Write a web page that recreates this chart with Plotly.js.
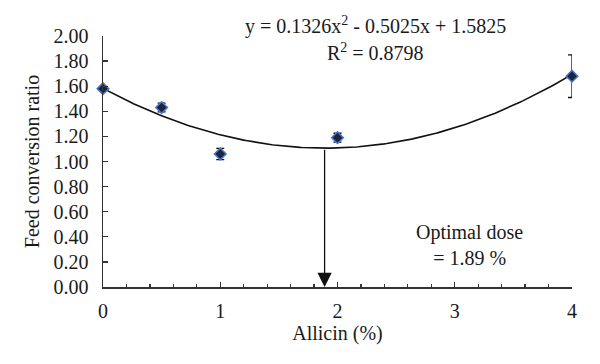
<!DOCTYPE html>
<html><head><meta charset="utf-8">
<script src="https://cdn.plot.ly/plotly-3.0.1.min.js"></script>
<style>body{margin:0;background:#fff}#c{width:600px;height:364px}</style>
</head><body><div id="c"></div>
<script>
const doses = [0, 0.5, 1, 2, 4];
const fcr = [1.58, 1.43, 1.06, 1.19, 1.68];
const fcrErr = [0.01, 0.035, 0.045, 0.035, 0.17];
const fitCoef = [0.1326, -0.5025, 1.5825];
const optimalDose = 1.89;
const xTicks = [0, 1, 2, 3, 4];
const yTicks = [0, 0.2, 0.4, 0.6, 0.8, 1.0, 1.2, 1.4, 1.6, 1.8, 2.0];

const fit = x => fitCoef[0]*x*x + fitCoef[1]*x + fitCoef[2];
const fx = [], fy = [];
for (let i = 0; i <= 200; i++) { const x = 4*i/200; fx.push(x); fy.push(fit(x)); }

const F = 'Liberation Serif, Times New Roman, serif';
const FS = 19;
const TFS = 20;
const traces = [
  {x: fx, y: fy, mode: 'lines', line: {color: '#111', width: 1.6}, hoverinfo: 'skip'},
  {x: doses, y: fcr, mode: 'markers', type: 'scatter', cliponaxis: false,
   error_y: {type: 'data', array: fcrErr, color: '#111', thickness: 1.3, width: 4},
   marker: {symbol: 'diamond', size: 9, color: '#1a2440', line: {color: '#4a78c8', width: 1.5}}}
];
const layout = {
  width: 600, height: 364, showlegend: false,
  paper_bgcolor: '#fff', plot_bgcolor: '#fff',
  margin: {l: 103, r: 28, t: 36, b: 77},
  font: {family: F, size: FS, color: '#1a1a1a'},
  xaxis: {range: [0, 4], tickvals: xTicks, ticktext: xTicks.map(String),
    showgrid: false, zeroline: false, showline: true, linecolor: '#333', linewidth: 1.5,
    ticks: 'inside', ticklen: 5, tickcolor: '#333', tickwidth: 1.3,
    minor: {dtick: 0.2, ticks: 'inside', ticklen: 3, tickcolor: '#333', tickwidth: 1.2},
    tickfont: {family: F, size: TFS}, ticklabelstandoff: 5,
    title: {text: 'Allicin (%)', font: {family: F, size: TFS}, standoff: 5}},
  yaxis: {range: [0, 2], tickvals: yTicks, ticktext: yTicks.map(v => v.toFixed(2)),
    showgrid: false, zeroline: false, showline: true, linecolor: '#333', linewidth: 1.5,
    ticks: 'inside', ticklen: 5, tickcolor: '#333', tickwidth: 1.3,
    tickfont: {family: F, size: TFS}, ticklabelstandoff: 9,
    title: {text: 'Feed conversion ratio', font: {family: F, size: TFS}, standoff: 8}},
  annotations: [
    {xref: 'paper', yref: 'paper', x: 0.58, y: 1.04, yanchor: 'middle', showarrow: false,
     text: 'y = 0.1326x<sup>2</sup> - 0.5025x + 1.5825', font: {family: F, size: TFS, color: '#1a1a1a'}},
    {xref: 'paper', yref: 'paper', x: 0.58, y: 0.936, yanchor: 'middle', showarrow: false,
     text: 'R<sup>2</sup> = 0.8798', font: {family: F, size: TFS, color: '#1a1a1a'}},
    {xref: 'x', yref: 'y', x: 3.13, y: 0.335, showarrow: false,
     text: 'Optimal dose<br>= 1.89 %', font: {family: F, size: TFS, color: '#1a1a1a'}},
    {xref: 'x', yref: 'y', axref: 'x', ayref: 'y', x: optimalDose, y: 0.0,
     ax: optimalDose, ay: fit(optimalDose), showarrow: true, text: '',
     arrowhead: 2, arrowsize: 2.2, arrowwidth: 1.3, arrowcolor: '#111', standoff: 0}
  ]
};
Plotly.newPlot('c', traces, layout, {staticPlot: true});
</script></body></html>
